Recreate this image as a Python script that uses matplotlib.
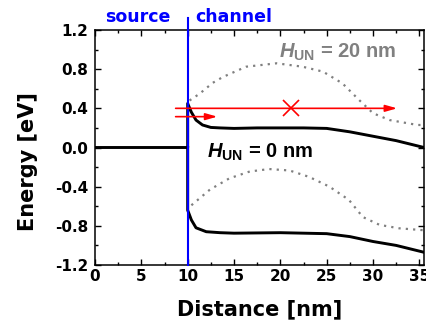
import matplotlib
matplotlib.use("Agg")
import matplotlib.pyplot as plt
from matplotlib.ticker import MultipleLocator, FormatStrFormatter

# conduction / valence band edges, H_UN = 0 nm (solid black)
cb0_x = [0, 10, 10, 10.4, 10.9, 11.6, 12.5, 13.5, 15, 17.5, 20, 22.5, 25, 27.5, 30, 32.5, 35.5]
cb0_y = [0, 0, 0.45, 0.36, 0.28, 0.23, 0.205, 0.2, 0.195, 0.2, 0.2, 0.2, 0.195, 0.16, 0.115, 0.07, 0.0]
vb0_x = [10, 10, 10.4, 10.9, 12, 13.5, 15, 20, 25, 27.5, 30, 32.5, 35.5]
vb0_y = [0, -0.64, -0.74, -0.82, -0.86, -0.87, -0.875, -0.87, -0.88, -0.91, -0.96, -1.0, -1.07]

# band edges, H_UN = 20 nm (grey dotted)
cb20_x = [10.2, 11.3, 12.7, 13.8, 16.3, 19.6, 22.4, 24.6, 26.7, 28.5, 30, 31.8, 34.8, 35.5]
cb20_y = [0.48, 0.55, 0.66, 0.72, 0.825, 0.86, 0.825, 0.775, 0.655, 0.485, 0.35, 0.28, 0.23, 0.23]
vb20_x = [10.4, 12.4, 14.5, 16.7, 18.8, 21, 23.1, 25.3, 27.4, 28.9, 30.7, 32.8, 34.8, 35.5]
vb20_y = [-0.59, -0.43, -0.315, -0.245, -0.22, -0.235, -0.30, -0.40, -0.535, -0.71, -0.79, -0.825, -0.84, -0.845]

# electron paths (red arrows) and blocked point
path_long = [(8.7, 0.40), (32.6, 0.40)]
path_short = [(8.7, 0.315), (13.2, 0.315)]
blocked = (21.1, 0.40)
junction_x = 10

plt.rcParams["axes.unicode_minus"] = False
plt.rcParams["mathtext.fontset"] = "custom"
plt.rcParams["mathtext.it"] = "Liberation Sans:italic:bold"
plt.rcParams["mathtext.rm"] = "Liberation Sans:bold"

fig = plt.figure(figsize=(4.27, 3.24), dpi=100)
ax = fig.add_axes([95 / 427, 1 - 265 / 324, 329 / 427, 235 / 324])

ax.plot(cb0_x, cb0_y, color="black", lw=2.1, zorder=3)
ax.plot(vb0_x, vb0_y, color="black", lw=2.1, zorder=3)
ax.plot(cb20_x, cb20_y, color="#808080", lw=1.6, ls=(0, (1, 2.3)), zorder=2)
ax.plot(vb20_x, vb20_y, color="#808080", lw=1.6, ls=(0, (1, 2.3)), zorder=2)

# source/channel boundary
ax.plot([junction_x, junction_x], [-1.2, 1.32], color="blue", lw=1.5,
        clip_on=False, zorder=4)

for p in (path_long, path_short):
    ax.annotate("", xy=p[1], xytext=p[0],
                arrowprops=dict(arrowstyle="-|>,head_length=0.7,head_width=0.2",
                                color="red", lw=1.2, mutation_scale=10,
                                shrinkA=0, shrinkB=0), zorder=5)
ax.plot(*blocked, marker="x", color="red", ms=11, mew=1.2, zorder=5)

ax.text(19.9, 0.92, r"$\mathit{H}_{\mathrm{UN}}$ = 20 nm", color="#808080",
        fontsize=14.5, fontweight="bold", family="Liberation Sans")
ax.text(12.05, -0.10, r"$\mathit{H}_{\mathrm{UN}}$ = 0 nm", color="black",
        fontsize=14.5, fontweight="bold", family="Liberation Sans")

fig.text(137.5 / 427, 1 - 17 / 324, "source", color="blue", fontsize=12.5,
         fontweight="bold", ha="center", va="center")
fig.text(234 / 427, 1 - 17 / 324, "channel", color="blue", fontsize=12.5,
         fontweight="bold", ha="center", va="center")

ax.set_xlim(0, 35.5)
ax.set_ylim(-1.2, 1.2)
ax.xaxis.set_major_locator(MultipleLocator(5))
ax.xaxis.set_minor_locator(MultipleLocator(2.5))
ax.yaxis.set_major_locator(MultipleLocator(0.4))
ax.yaxis.set_minor_locator(MultipleLocator(0.2))
ax.yaxis.set_major_formatter(FormatStrFormatter("%.1f"))
ax.tick_params(which="both", direction="in", top=True, right=True, width=1.0)
ax.tick_params(which="major", length=4)
ax.tick_params(which="minor", length=2.2)
ax.tick_params(axis="x", which="major", pad=3)
ax.tick_params(axis="y", which="major", pad=5)
for lab in ax.get_xticklabels() + ax.get_yticklabels():
    lab.set_fontsize(11)
    lab.set_fontweight("bold")
for s in ax.spines.values():
    s.set_linewidth(1.1)

ax.set_xlabel("Distance [nm]", fontsize=15, fontweight="bold", labelpad=11)
ax.set_ylabel("Energy [eV]", fontsize=15, fontweight="bold", va="center", ha="center")
ax.yaxis.set_label_coords(-0.204, 0.44)

fig.savefig("out.png", dpi=100)
